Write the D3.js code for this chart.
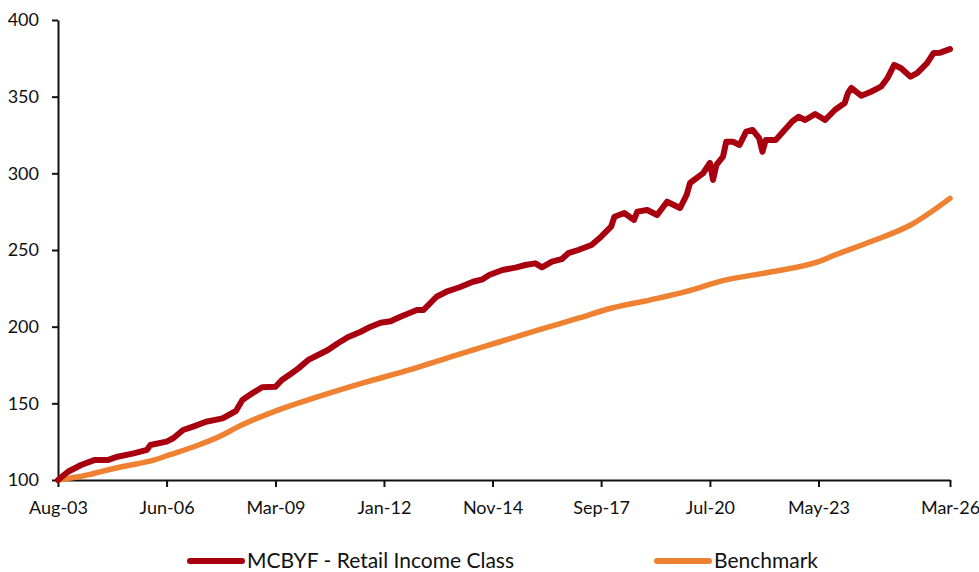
<!DOCTYPE html>
<meta charset="utf-8">
<script src="https://d3js.org/d3.v7.min.js"></script>
<style>
  body { margin: 0; background: #fff; }
  text { font-family: Lato, "Open Sans", sans-serif; fill: #111; }
  .axis text { font-size: 18px; }
  .axis path, .axis line { stroke: #111; stroke-width: 2px; }
  .legend text { font-size: 21px; }
</style>
<body>
<div id="chart"></div>
<script>
// ---- data ----
const redDates = ["2003-08","2003-11","2004-03","2004-07","2004-11","2005-02","2005-07","2005-11","2005-12","2006-05",
  "2006-07","2006-10","2007-01","2007-05","2007-10","2008-02","2008-04","2008-07","2008-10","2009-02",
  "2009-04","2009-07","2009-09","2009-12","2010-03","2010-06","2010-09","2010-12","2011-04","2011-07",
  "2011-10","2012-01","2012-04","2012-09","2012-11","2013-03","2013-06","2013-10","2014-02","2014-05",
  "2014-07","2014-11","2015-03","2015-06","2015-09","2015-11","2016-02","2016-05","2016-07","2016-10",
  "2017-02","2017-05","2017-08","2017-09","2017-12","2018-03","2018-04","2018-07","2018-10","2019-01",
  "2019-05","2019-07","2019-08","2019-12","2020-02","2020-03","2020-04","2020-06","2020-07","2020-09",
  "2020-11","2021-01","2021-03","2021-05","2021-06","2021-07","2021-10","2022-03","2022-05","2022-07",
  "2022-10","2023-01","2023-04","2023-07","2023-08","2023-09","2023-12","2024-03","2024-06","2024-08",
  "2024-10","2024-12","2025-03","2025-05","2025-08","2025-10","2025-12","2026-03"];
const redValues = [100.0,105.4,109.8,113.0,113.0,115.2,117.4,119.6,122.8,125.0,
  127.2,132.6,134.8,138.0,140.2,145.0,152.2,156.5,160.5,160.8,
  165.2,169.6,172.8,178.3,181.5,184.8,189.2,193.1,196.7,200.0,
  202.6,203.5,206.5,210.9,210.9,219.5,222.8,225.7,229.3,230.9,
  233.7,237.0,238.5,240.2,241.3,238.7,242.4,244.0,247.9,250.0,
  253.3,258.7,265.2,271.7,274.1,269.6,275.0,276.1,272.8,281.5,
  277.4,285.9,293.7,300.2,306.8,295.7,305.5,310.9,320.6,320.6,
  318.5,327.2,328.3,323.0,314.1,321.7,321.7,333.7,336.9,334.8,
  338.7,334.8,341.3,345.9,352.4,355.7,350.6,353.2,356.5,362.2,
  370.7,368.7,363.0,365.4,371.9,378.5,378.7,381.0];

const benchDates = ["2003-08","2004-05","2004-09","2005-03","2006-01","2006-06","2007-01","2007-10","2008-02","2009-03",
  "2010-04","2011-05","2012-07","2013-09","2014-10","2015-11","2016-10","2017-08","2018-08","2019-07",
  "2020-06","2021-08","2022-11","2023-04","2024-03","2025-03","2026-03"];
const benchValues = [100.0,103.3,105.5,108.5,113.0,116.5,121.5,129.3,134.0,145.7,
  155.0,163.5,172.0,181.5,190.0,198.5,205.5,212.0,217.5,223.0,
  230.0,235.5,242.4,246.7,255.5,266.3,283.7];

const seriesNames = ["MCBYF - Retail Income Class", "Benchmark"];
const seriesColors = ["#a8000f", "#ef8232"];
const yTicks = [100, 150, 200, 250, 300, 350, 400];
const xTickDates = ["2003-08","2006-05","2009-02","2011-11","2014-08","2017-05","2020-02","2022-11","2025-08"];
const xTickLabels = ["Aug-03","Jun-06","Mar-09","Jan-12","Nov-14","Sep-17","Jul-20","May-23","Mar-26"];

// ---- layout ----
const width = 979, height = 572;
const plotLeft = 58, plotRight = 950, plotTop = 20, plotBottom = 480;

const parse = d3.timeParse("%Y-%m");

const svg = d3.select("#chart").append("svg")
  .attr("width", width)
  .attr("height", height);

const x = d3.scaleTime()
  .domain([parse("2003-08"), parse("2026-03")])
  .range([plotLeft, plotRight]);

const y = d3.scaleLinear()
  .domain([100, 400])
  .range([plotBottom, plotTop]);

// tick positions: labels are evenly spaced 33 months apart, last one at the end
const xTickVals = xTickDates.map(parse);
xTickVals[xTickVals.length - 1] = parse("2026-03");

svg.append("g")
  .attr("class", "axis")
  .attr("transform", `translate(0,${plotBottom})`)
  .call(d3.axisBottom(x)
    .tickValues(xTickVals)
    .tickSize(7)
    .tickSizeOuter(0)
    .tickPadding(14)
    .tickFormat((d, i) => xTickLabels[i]));

svg.append("g")
  .attr("class", "axis")
  .attr("transform", `translate(${plotLeft},0)`)
  .call(d3.axisLeft(y)
    .tickValues(yTicks)
    .tickSize(6)
    .tickSizeOuter(0)
    .tickPadding(13));

const redData = redDates.map((d, i) => ({date: parse(d), value: redValues[i]}));
const benchData = benchDates.map((d, i) => ({date: parse(d), value: benchValues[i]}));

const line = d3.line()
  .x(d => x(d.date))
  .y(d => y(d.value));

svg.append("path")
  .datum(benchData)
  .attr("fill", "none")
  .attr("stroke", seriesColors[1])
  .attr("stroke-width", 5.5)
  .attr("stroke-linecap", "round")
  .attr("d", line.curve(d3.curveMonotoneX));

svg.append("path")
  .datum(redData)
  .attr("fill", "none")
  .attr("stroke", seriesColors[0])
  .attr("stroke-width", 6)
  .attr("stroke-linejoin", "round")
  .attr("stroke-linecap", "round")
  .attr("d", line.curve(d3.curveLinear));

// legend
const legendX = [190, 657];
const legend = svg.append("g").attr("class", "legend");
seriesNames.forEach((name, i) => {
  legend.append("line")
    .attr("x1", legendX[i]).attr("x2", legendX[i] + 52)
    .attr("y1", 561).attr("y2", 561)
    .attr("stroke", seriesColors[i])
    .attr("stroke-width", 6)
    .attr("stroke-linecap", "round");
  legend.append("text")
    .attr("x", legendX[i] + 57)
    .attr("y", 568)
    .text(name);
});
</script>
</body>
